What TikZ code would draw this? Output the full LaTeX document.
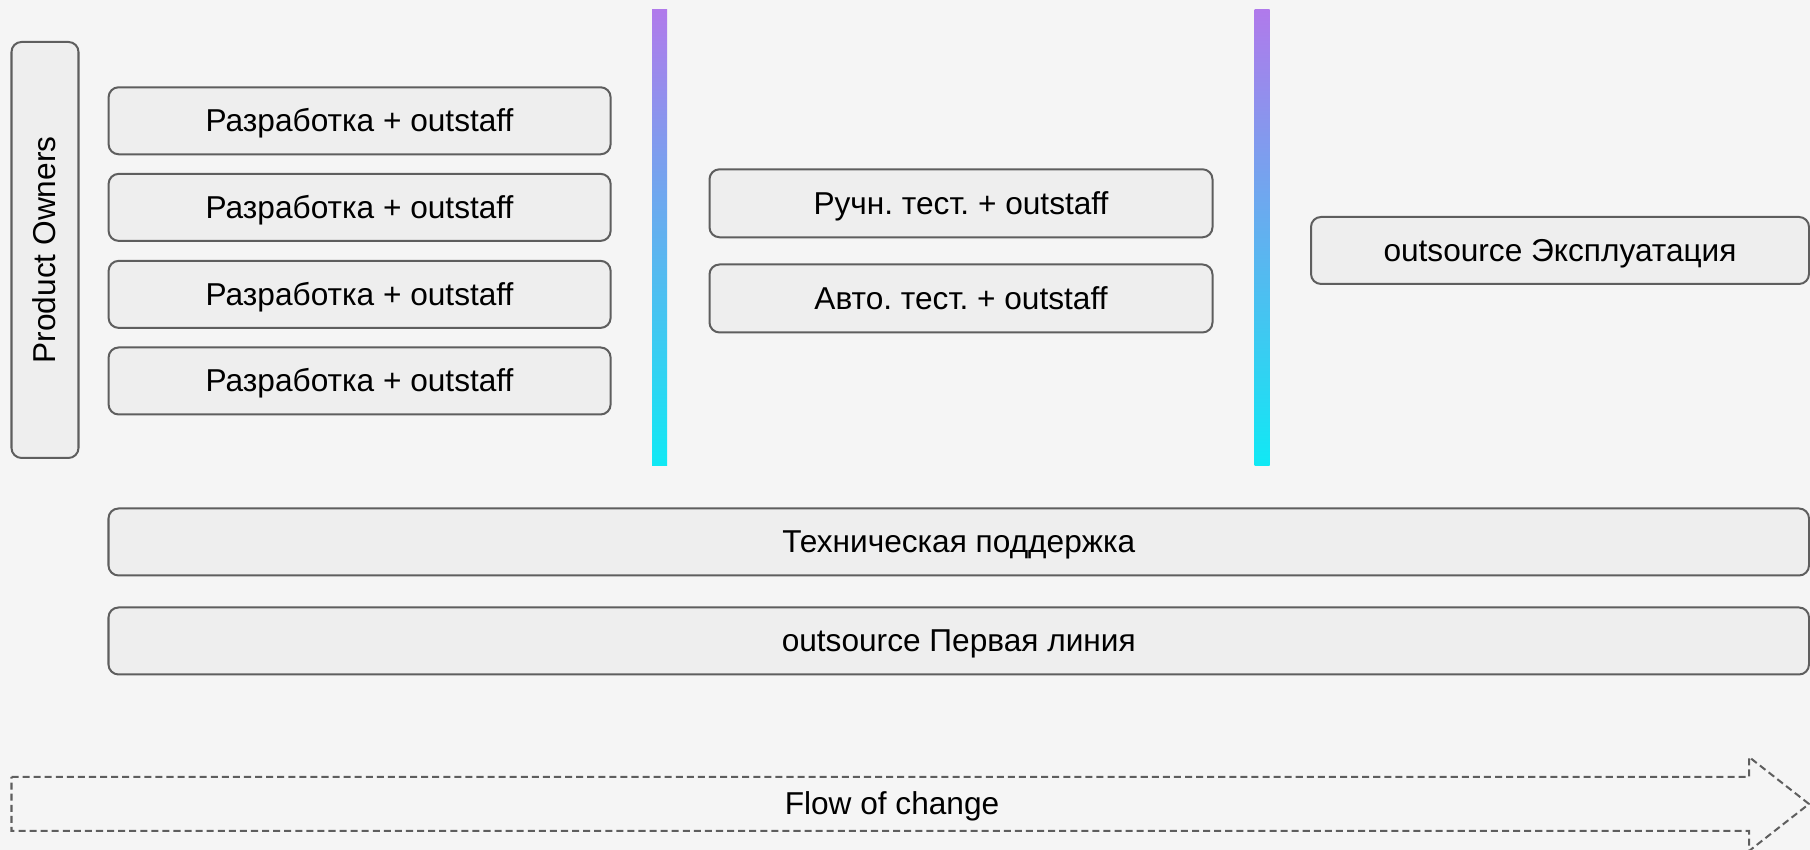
\documentclass[tikz,border=0pt]{standalone}
\usepackage{fontspec}
\setmainfont{Liberation Sans}
\frenchspacing

\definecolor{bgGray}{HTML}{F5F5F5}
\definecolor{boxFill}{HTML}{EEEEEE}
\definecolor{boxLine}{HTML}{5E5E5E}
\definecolor{barTop}{HTML}{B07AEB}
\definecolor{barMid}{HTML}{6EA6EE}
\definecolor{barBot}{HTML}{10E9F4}

\begin{document}
\begin{tikzpicture}
[
    font=\fontsize{9pt}{10pt}\selectfont,
    every node/.style={
        text height=0.72em,
        text depth=0.1em
    },
    team/.style={
        draw=boxLine,
        fill=boxFill,
        line width=0.57pt,
        rounded corners=1mm,
        minimum height=0.67cm,
        inner sep=0pt
    },
    gate/.style={
        top color=barTop,
        middle color=barMid,
        bottom color=barBot
    },
    flowline/.style={
        draw=boxLine,
        line width=0.57pt,
        dash pattern=on 2pt off 1.15pt
    }
]
% Background
\fill[bgGray] (0,0) rectangle (18.1,8.5);
\useasboundingbox (0,0) rectangle (18.1,8.5);

% Owners
\node[team,rotate=90,minimum width=4.16cm] (po) at (0.45,6.0) {Product Owners};

% Development teams
\node[team,minimum width=5.02cm] (dev1) at (3.596,7.292) {Разработка + outstaff};
\node[team,minimum width=5.02cm] (dev2) at (3.596,6.426) {Разработка + outstaff};
\node[team,minimum width=5.02cm] (dev3) at (3.596,5.556) {Разработка + outstaff};
\node[team,minimum width=5.02cm] (dev4) at (3.596,4.690) {Разработка + outstaff};

% Gradient gates
\shade[gate] (6.52,3.84) rectangle (6.67,8.40);
\shade[gate] (12.545,3.84) rectangle (12.695,8.40);

% Testing teams
\node[team,minimum width=5.03cm,minimum height=0.68cm] (manual) at (9.61,6.467) {Ручн. тест. + outstaff};
\node[team,minimum width=5.03cm,minimum height=0.68cm] (auto) at (9.61,5.515) {Авто. тест. + outstaff};

% Operations
\node[team,minimum width=4.98cm] (ops) at (15.6,5.995) {outsource Эксплуатация};

% Support lines
\node[team,minimum width=17.005cm] (support) at (9.5875,3.08) {Техническая поддержка};
\node[team,minimum width=17.005cm] (firstline) at (9.5875,2.09) {outsource Первая линия};

% Flow arrow
\draw[flowline] (0.115,0.73) -- (17.49,0.73) -- (17.49,0.93) -- (18.09,0.46)
    -- (17.49,-0.01) -- (17.49,0.19) -- (0.115,0.19) -- cycle;
\node (flow) at (8.92,0.46) {Flow of change};
\end{tikzpicture}
\end{document}
